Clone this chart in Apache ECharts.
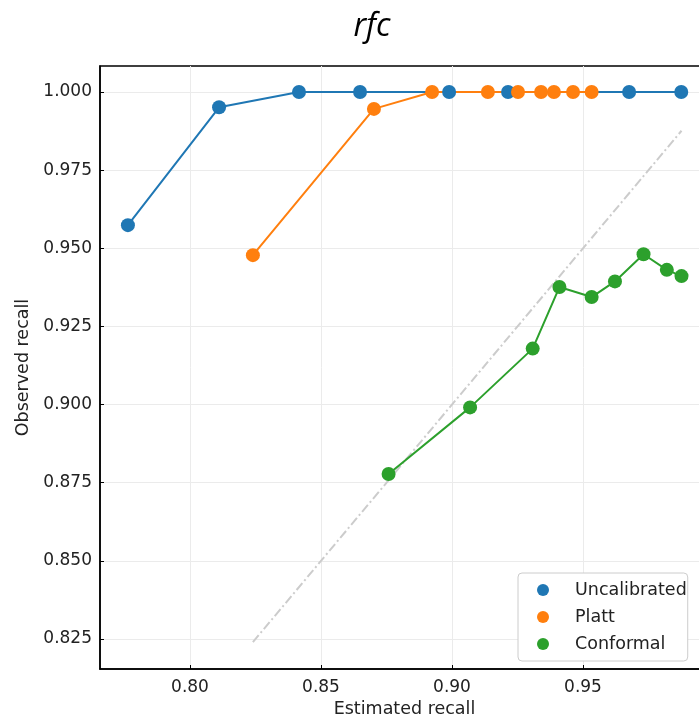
<!DOCTYPE html>
<html>
<head>
<meta charset="utf-8">
<script src="https://cdn.jsdelivr.net/npm/echarts@6/dist/echarts.min.js"></script>
<style>
html,body{margin:0;padding:0;background:#fff;}
#chart{width:699px;height:718px;}
</style>
</head>
<body>
<div id="chart"></div>
<script>
// Data
var uncalEst = [0.7763, 0.8111, 0.8416, 0.8649, 0.8989, 0.9214, 0.9676, 0.9875];
var uncalObs = [0.9574, 0.9951, 1.0, 1.0, 1.0, 1.0, 1.0, 1.0];
var plattEst = [0.8240, 0.8702, 0.8924, 0.9137, 0.9252, 0.9340, 0.9389, 0.9462, 0.9533];
var plattObs = [0.9478, 0.9946, 1.0, 1.0, 1.0, 1.0, 1.0, 1.0, 1.0];
var confEst = [0.8758, 0.9069, 0.9308, 0.9410, 0.9533, 0.9622, 0.9731, 0.9820, 0.9876];
var confObs = [0.8778, 0.8991, 0.9179, 0.9376, 0.9344, 0.9394, 0.9481, 0.9431, 0.9411];
var xTicks = [0.80, 0.85, 0.90, 0.95];
var yTicks = [0.825, 0.850, 0.875, 0.900, 0.925, 0.950, 0.975, 1.000];
var seriesNames = ['Uncalibrated', 'Platt', 'Conformal'];
var colors = ['#1f77b4', '#ff7f0e', '#2ca02c'];
// ideal-calibration diagonal endpoints (as drawn in the reference)
var diagStart = 0.824, diagEnd = 0.9876;

function pairs(a, b) { return a.map(function (v, i) { return [v, b[i]]; }); }
var diag = [[diagStart, diagStart], [diagEnd, diagEnd]];

var chart = echarts.init(document.getElementById('chart'));
var font = 'DejaVu Sans';
function mk(name, d, c) {
  return {
    name: name, type: 'line', data: d,
    symbol: 'circle', symbolSize: 14,
    itemStyle: { color: c },
    lineStyle: { color: c, width: 2 },
    emphasis: { disabled: true },
    animation: false, z: 3
  };
}
chart.setOption({
  animation: false,
  title: {
    text: 'rfc', left: 367, top: 6, textAlign: 'center',
    textStyle: { fontFamily: 'Open Sans', fontStyle: 'italic', fontWeight: 'normal', fontSize: 32, color: '#000' }
  },
  grid: { left: 100, top: 66, width: 609, height: 603, outerBoundsMode: 'none', containLabel: false,
    show: true, borderColor: '#000', borderWidth: 1.5, backgroundColor: 'transparent' },
  legend: {
    data: seriesNames.map(function (n) { return { name: n, icon: 'circle' }; }),
    orient: 'vertical', left: 518, top: 573,
    itemWidth: 54, itemHeight: 12, itemGap: 9,
    padding: [8, 1, 8, 19],
    backgroundColor: '#fff', borderColor: '#cccccc', borderWidth: 1, borderRadius: 4,
    textStyle: { fontFamily: font, fontSize: 17.5, color: '#222' }
  },
  xAxis: {
    type: 'value', min: 0.76565, max: 0.99809,
    name: 'Estimated recall', nameLocation: 'middle', nameGap: 29,
    nameTextStyle: { fontFamily: font, fontSize: 17.5, color: '#222' },
    axisLine: { lineStyle: { color: '#000', width: 1.5 } },
    axisTick: { inside: true, length: 4, customValues: xTicks, lineStyle: { color: '#000' } },
    axisLabel: { customValues: xTicks, fontFamily: font, fontSize: 17, color: '#222', margin: 10,
      formatter: function (v) { return v.toFixed(2); } },
    splitLine: { show: true, lineStyle: { color: '#ebebeb', width: 1 } }
  },
  yAxis: {
    type: 'value', min: 0.8154, max: 1.00832,
    name: 'Observed recall', nameLocation: 'middle', nameGap: 63, nameRotate: 90,
    nameTextStyle: { fontFamily: font, fontSize: 17.5, color: '#222' },
    axisLine: { show: true, lineStyle: { color: '#000', width: 1.5 } },
    axisTick: { show: true, inside: true, length: 4, customValues: yTicks, lineStyle: { color: '#000' } },
    axisLabel: { customValues: yTicks, fontFamily: font, fontSize: 17, color: '#222', margin: 8,
      formatter: function (v) { return v.toFixed(3); } },
    splitLine: { show: true, lineStyle: { color: '#ebebeb', width: 1 } }
  },
  series: [
    {
      name: 'diag', type: 'line', data: diag, symbol: 'none', z: 1,
      lineStyle: { color: '#cccccc', width: 2, type: [9, 3, 2, 3] },
      emphasis: { disabled: true }, silent: true
    },
    mk(seriesNames[0], pairs(uncalEst, uncalObs), colors[0]),
    mk(seriesNames[1], pairs(plattEst, plattObs), colors[1]),
    mk(seriesNames[2], pairs(confEst, confObs), colors[2])
  ]
});
</script>
</body>
</html>
